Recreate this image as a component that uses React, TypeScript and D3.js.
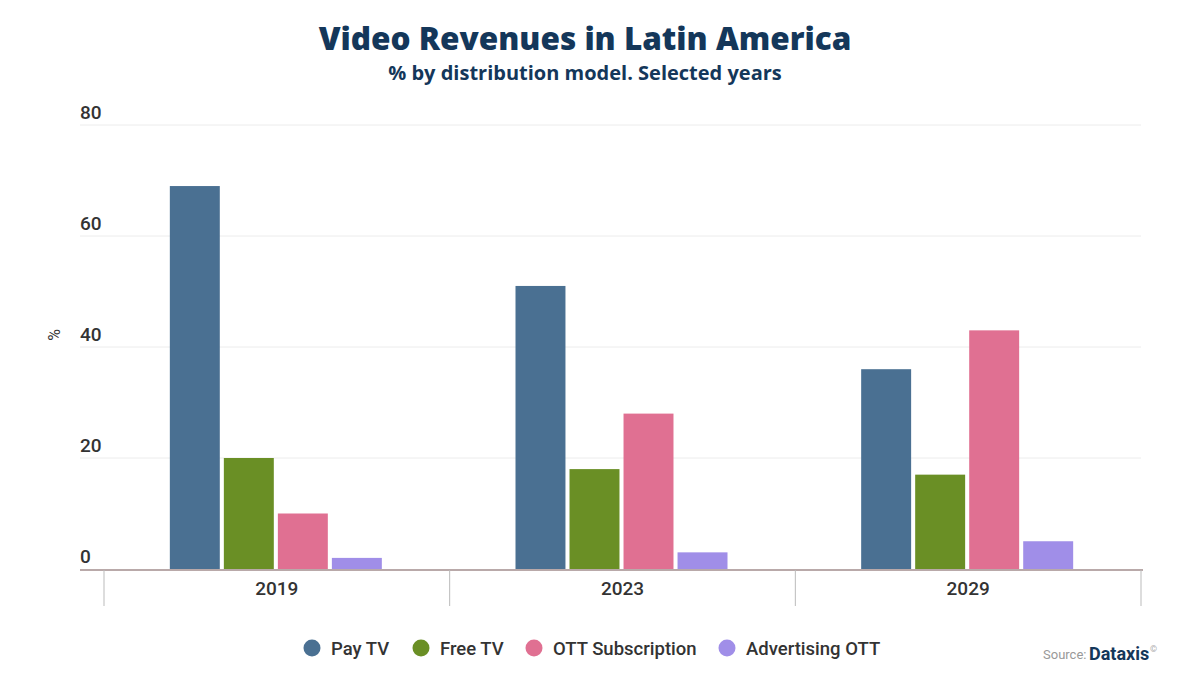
import React from "react";
import * as d3 from "d3";

const years = ["2019", "2023", "2029"];
const seriesNames = ["Pay TV", "Free TV", "OTT Subscription", "Advertising OTT"];
const payTV = [69, 51, 36];
const freeTV = [20, 18, 17];
const ottSub = [10, 28, 43];
const advOTT = [2, 3, 5];
const yTicks = [0, 20, 40, 60, 80];
const colors = ["#4a7092", "#6a8f25", "#e07092", "#a08ee8"];

export default function App() {
  const W = 1200, H = 675;
  const seriesValues = [payTV, freeTV, ottSub, advOTT];
  const y = d3.scaleLinear().domain([0, 80]).range([569, 125]);
  const x = d3.scaleBand().domain(years).range([104, 1141]).paddingInner(0).paddingOuter(0);
  const groupW = 212;
  const inner = d3.scaleBand().domain(seriesNames).range([0, groupW]).paddingInner(0.075).paddingOuter(0);
  const font = "Roboto, 'Open Sans', sans-serif";
  return (
    <div style={{ margin: -8 }}>
      <svg width={W} height={H} style={{ display: "block", background: "#fff" }}>
        <text x={585} y={50} textAnchor="middle" fontFamily="'Open Sans', sans-serif" fontWeight={800} fontSize={31.5} fill="#14375a">Video Revenues in Latin America</text>
        <text x={585} y={80} textAnchor="middle" fontFamily="'Open Sans', sans-serif" fontWeight={700} fontSize={20} fill="#14375a">% by distribution model. Selected years</text>
        {yTicks.filter(t => t > 0).map(t => (
          <line key={t} x1={80} x2={1141} y1={y(t)} y2={y(t)} stroke="#ececec" strokeWidth={1} />
        ))}
        {yTicks.map(t => (
          <text key={t} x={80} y={y(t) - 6} fontFamily={font} fontWeight={500} fontSize={19} fill="#333">{t}</text>
        ))}
        <text transform={`translate(60,${y(40) - 12}) rotate(-90)`} textAnchor="middle" fontFamily={font} fontSize={16} fill="#333">%</text>
        {years.map((yr, i) => {
          const gx = x(yr)! + x.bandwidth() / 2 - groupW / 2 - 1;
          return seriesNames.map((s, j) => {
            const v = seriesValues[j][i];
            return (
              <rect key={yr + s} x={gx + inner(s)!} y={y(v)} width={inner.bandwidth()} height={y(0) - y(v)} fill={colors[j]} />
            );
          });
        })}
        <line x1={80} x2={1143} y1={570} y2={570} stroke="#b9a9a9" strokeWidth={2} />
        {[...years.map(yr => x(yr)!), 1141].map((tx, i) => (
          <line key={i} x1={tx} x2={tx} y1={570} y2={606} stroke="#bbb" strokeWidth={1} />
        ))}
        {years.map(yr => (
          <text key={yr} x={x(yr)! + x.bandwidth() / 2} y={595} textAnchor="middle" fontFamily={font} fontWeight={500} fontSize={19} fill="#333">{yr}</text>
        ))}
        {(() => {
          const items = [
            { cx: 312, tx: 331 },
            { cx: 421, tx: 440 },
            { cx: 534, tx: 553 },
            { cx: 727, tx: 746 },
          ];
          return seriesNames.map((s, j) => (
            <g key={s}>
              <circle cx={items[j].cx} cy={648} r={8.5} fill={colors[j]} />
              <text x={items[j].tx} y={654.5} fontFamily={font} fontWeight={500} fontSize={18.5} fill="#333">{s}</text>
            </g>
          ));
        })()}
        <text x={1043} y={659} fontFamily={font} fontSize={13} fill="#999">Source:</text>
        <text x={1089} y={660} fontFamily={font} fontWeight={700} fontSize={18} fill="#14375a">Dataxis</text>
        <text x={1150} y={652} fontFamily={font} fontSize={9} fill="#aaa">©</text>
      </svg>
    </div>
  );
}
